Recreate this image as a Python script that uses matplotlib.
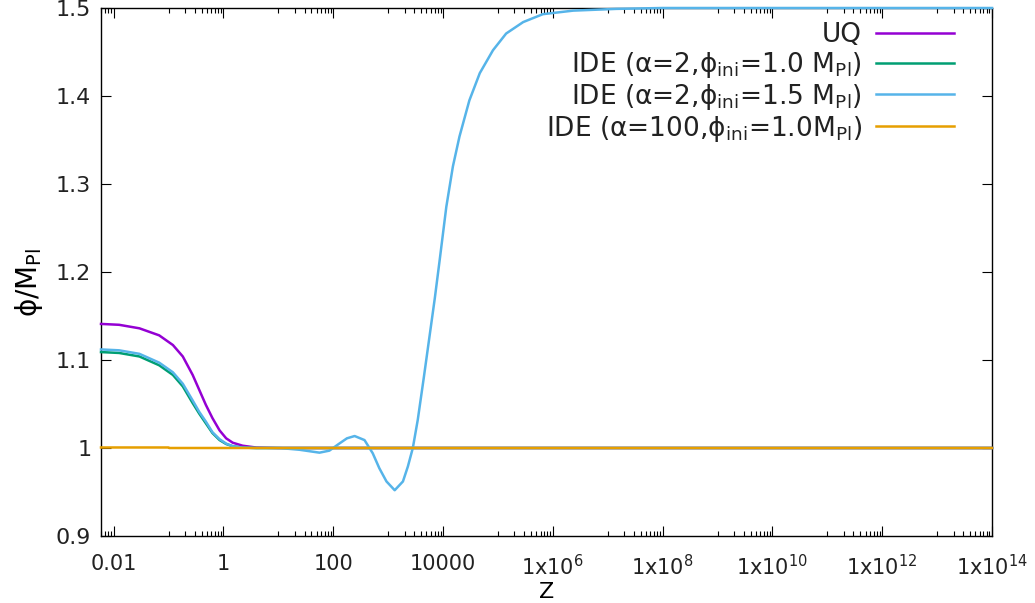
import numpy as np
import matplotlib
matplotlib.use("Agg")
import matplotlib.pyplot as plt
from matplotlib.ticker import FixedLocator, FixedFormatter, NullFormatter

# log10(z) and phi/M_Pl
log_z_uq = [-2.23, -1.90, -1.53, -1.17, -0.92, -0.74, -0.56, -0.44, -0.32, -0.20,
            -0.07, 0.05, 0.17, 0.35, 0.60, 1.0, 14.0]
phi_uq = [1.141, 1.140, 1.136, 1.128, 1.117, 1.104, 1.083, 1.066, 1.049, 1.034,
          1.020, 1.011, 1.006, 1.0026, 1.0005, 1.0, 1.0]

log_z_ide1 = [-2.23, -1.90, -1.53, -1.17, -0.92, -0.74, -0.56, -0.44, -0.32, -0.20,
              -0.07, 0.05, 0.17, 0.35, 0.60, 1.0, 14.0]
phi_ide1 = [1.109, 1.108, 1.104, 1.094, 1.083, 1.070, 1.051, 1.039, 1.028, 1.017,
            1.009, 1.0045, 1.002, 1.0005, 1.0, 1.0, 1.0]

log_z_ide2 = [-2.23, -1.90, -1.53, -1.17, -0.92, -0.74, -0.56, -0.44, -0.32, -0.20,
              -0.07, 0.05, 0.17, 0.35, 0.60, 1.02, 1.385, 1.75, 1.93, 2.11, 2.25,
              2.39, 2.57, 2.72, 2.84, 2.97, 3.12, 3.27, 3.36, 3.45, 3.54, 3.65,
              3.75, 3.85, 3.94, 4.06, 4.18, 4.30, 4.48, 4.67, 4.91, 5.15, 5.46,
              5.82, 6.37, 7.16, 8.0, 14.0]
phi_ide2 = [1.112, 1.111, 1.107, 1.097, 1.086, 1.073, 1.054, 1.041, 1.030, 1.018,
            1.010, 1.005, 1.002, 1.0005, 1.0, 1.0, 0.998, 0.9947, 0.997, 1.005, 1.011,
            1.0136, 1.009, 0.994, 0.977, 0.962, 0.952, 0.962, 0.979, 1.0, 1.032, 1.08,
            1.125, 1.17, 1.214, 1.274, 1.320, 1.354, 1.395, 1.426, 1.452, 1.471, 1.484,
            1.493, 1.497, 1.499, 1.5, 1.5]

log_z_ide3 = [-2.23, -1.0, -0.99, 14.0]
phi_ide3 = [1.0006, 1.0006, 1.0, 1.0]

labels = ["UQ",
          "IDE (α=2,ϕ$_\\mathregular{ini}$=1.0 M$_\\mathregular{Pl}$)",
          "IDE (α=2,ϕ$_\\mathregular{ini}$=1.5 M$_\\mathregular{Pl}$)",
          "IDE (α=100,ϕ$_\\mathregular{ini}$=1.0M$_\\mathregular{Pl}$)"]
colors = ["#9400d3", "#009e73", "#56b4e9", "#e69f00"]

x_major = [1e-2, 1e0, 1e2, 1e4, 1e6, 1e8, 1e10, 1e12, 1e14]
x_major_labels = ["0.01", "1", "100", "10000", "1x10$^{6}$", "1x10$^{8}$",
                  "1x10$^{10}$", "1x10$^{12}$", "1x10$^{14}$"]
y_major = [0.9, 1.0, 1.1, 1.2, 1.3, 1.4, 1.5]
y_major_labels = ["0.9", "1", "1.1", "1.2", "1.3", "1.4", "1.5"]

plt.rcParams['font.family'] = ['DejaVu Sans']
plt.rcParams['mathtext.fontset'] = 'dejavusans'

fig = plt.figure(figsize=(10.35, 6.03), dpi=100)
ax = fig.add_axes([101/1035, 1-536/603, 891/1035, 528/603])

series = [(log_z_uq, phi_uq), (log_z_ide1, phi_ide1), (log_z_ide2, phi_ide2), (log_z_ide3, phi_ide3)]
for (lz, phi), c, lab in zip(series, colors, labels):
    ax.plot(10.0**np.array(lz), phi, color=c, lw=1.8, label=lab, clip_on=False, zorder=3,
            solid_joinstyle='round')

ax.set_xscale('log')
ax.set_xlim(10**-2.23, 1e14)
ax.set_ylim(0.9, 1.5)

ax.xaxis.set_major_locator(FixedLocator(x_major))
ax.xaxis.set_major_formatter(FixedFormatter(x_major_labels))
minor = [k * 10.0**e for e in range(-3, 14, 2) for k in range(1, 10)]
ax.xaxis.set_minor_locator(FixedLocator(minor))
ax.xaxis.set_minor_formatter(NullFormatter())
ax.yaxis.set_major_locator(FixedLocator(y_major))
ax.yaxis.set_major_formatter(FixedFormatter(y_major_labels))

ax.tick_params(which='both', direction='in', top=True, right=True, width=0.8, colors='black',
               labelsize=15, labelcolor='#222222')
ax.tick_params(which='major', length=7)
ax.tick_params(which='minor', length=3.5)
ax.tick_params(axis='x', pad=13)
ax.tick_params(axis='y', pad=7, labelsize=16)
for s in ax.spines.values():
    s.set_linewidth(1.0)

ax.set_xlabel("Z", fontsize=16)
ax.xaxis.set_label_coords(0.5, -0.088)
ax.set_ylabel("ϕ/M$_\\mathregular{Pl}$", fontsize=20)
ax.yaxis.set_label_coords(-0.063, 0.48)

leg = ax.legend(loc='upper right', bbox_to_anchor=(954/1035, 1-22/603), bbox_transform=fig.transFigure,
                frameon=False, markerfirst=False, fontsize=19, handlelength=2.95,
                handletextpad=0.55, labelspacing=0.07, borderpad=0, borderaxespad=0)
for t in leg.get_texts():
    t.set_color('#222222')

fig.savefig("out.png", dpi=100)
